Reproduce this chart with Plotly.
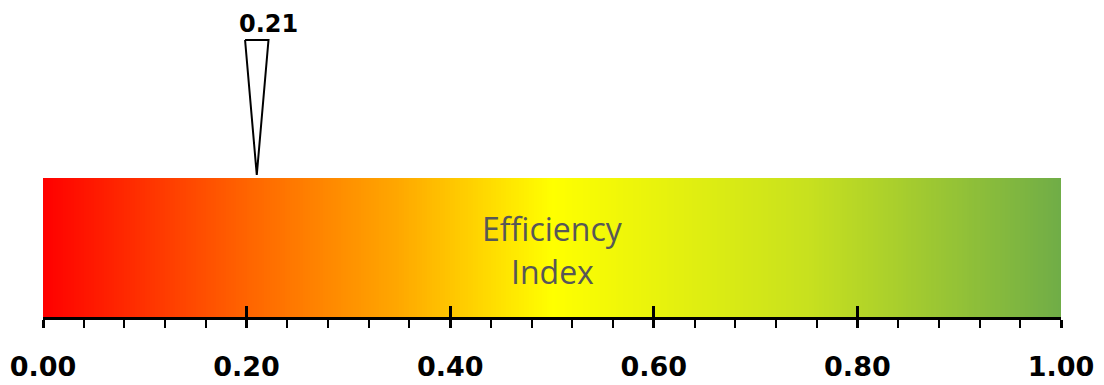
import numpy as np
import plotly.graph_objects as go

# Data
index_value = 0.21
value_label = "0.21"
bar_title_lines = ["Efficiency", "Index"]
tick_values = [0.0, 0.2, 0.4, 0.6, 0.8, 1.0]
tick_labels = ["0.00", "0.20", "0.40", "0.60", "0.80", "1.00"]
gradient_stops = [0.0, 0.2, 0.35, 0.5, 0.75, 1.0]
gradient_colors = ["#ff0000", "#ff6400", "#ffa800", "#ffff00", "#c8e11e", "#70ad47"]

colorscale = [[s, c] for s, c in zip(gradient_stops, gradient_colors)]

# gradient band (styling: smooth colour ramp over the 0..1 scale)
n = 400
dx = 1.0 / n
xs = (np.arange(n) + 0.5) * dx

# figure fills the whole window (body margin removed below)
W, H = 1104, 385
ML, MR, MT, MB = 43, 43, 10, 68
plot_h = H - MT - MB  # 307 px
BAR_PX = 139.0
Y_TOP = plot_h / BAR_PX

fig = go.Figure()
fig.add_trace(go.Heatmap(
    x=xs, y=[0.5], z=[xs], colorscale=colorscale, zmin=0, zmax=1,
    showscale=False, hoverinfo="skip", xgap=0, ygap=0,
))

# pointer triangle
half_w = 0.0115
tip_y = 142 / BAR_PX
top_y = 277 / BAR_PX
fig.add_trace(go.Scatter(
    x=[index_value - half_w, index_value + half_w, index_value, index_value - half_w],
    y=[top_y, top_y, tip_y, top_y],
    mode="lines", fill="toself", fillcolor="white",
    line=dict(color="black", width=2), hoverinfo="skip", showlegend=False,
))

fig.add_annotation(
    x=index_value, y=293 / BAR_PX, text="<b>%s</b>" % value_label, showarrow=False,
    xshift=12, font=dict(family="DejaVu Sans", size=24, color="black"),
)
for line_text, py in zip(bar_title_lines, [228, 271]):
    fig.add_annotation(
        x=0.5, y=(317 - py) / BAR_PX, text=line_text, showarrow=False,
        font=dict(family="Open Sans", size=32, color="#575757"),
    )

fig.update_layout(
    width=W, height=H,
    margin=dict(l=ML, r=MR, t=MT, b=MB),
    plot_bgcolor="white", paper_bgcolor="white",
    showlegend=False,
    xaxis=dict(
        range=[0, 1], tickvals=tick_values, automargin=False,
        ticktext=["<b>%s</b>" % t for t in tick_labels],
        ticks="outside", ticklen=8, tickwidth=2.5, tickcolor="black",
        showline=True, linewidth=2.5, linecolor="black",
        showgrid=False, zeroline=False,
        tickfont=dict(family="DejaVu Sans", size=27, color="black"),
        ticklabelstandoff=16,
        minor=dict(dtick=0.04, tick0=0, ticks="outside", ticklen=8, tickwidth=2,
                   tickcolor="black", showgrid=False),
        fixedrange=True,
    ),
    xaxis2=dict(
        range=[0, 1], overlaying="x", side="bottom", anchor="y", automargin=False,
        tickvals=tick_values, showticklabels=False,
        ticks="inside", ticklen=11, tickwidth=2.5, tickcolor="black",
        showgrid=False, zeroline=False, showline=False,
    ),
    yaxis=dict(range=[0, Y_TOP], visible=False, fixedrange=True, automargin=False),
)
# invisible trace to activate xaxis2
fig.add_trace(go.Scatter(x=[0], y=[0], xaxis="x2", mode="markers",
                         marker=dict(opacity=0), hoverinfo="skip", showlegend=False))

fig.write_html(
    "out.html",
    config={"displayModeBar": False},
    post_script="document.body.style.margin='0';document.body.style.overflow='hidden';",
)
